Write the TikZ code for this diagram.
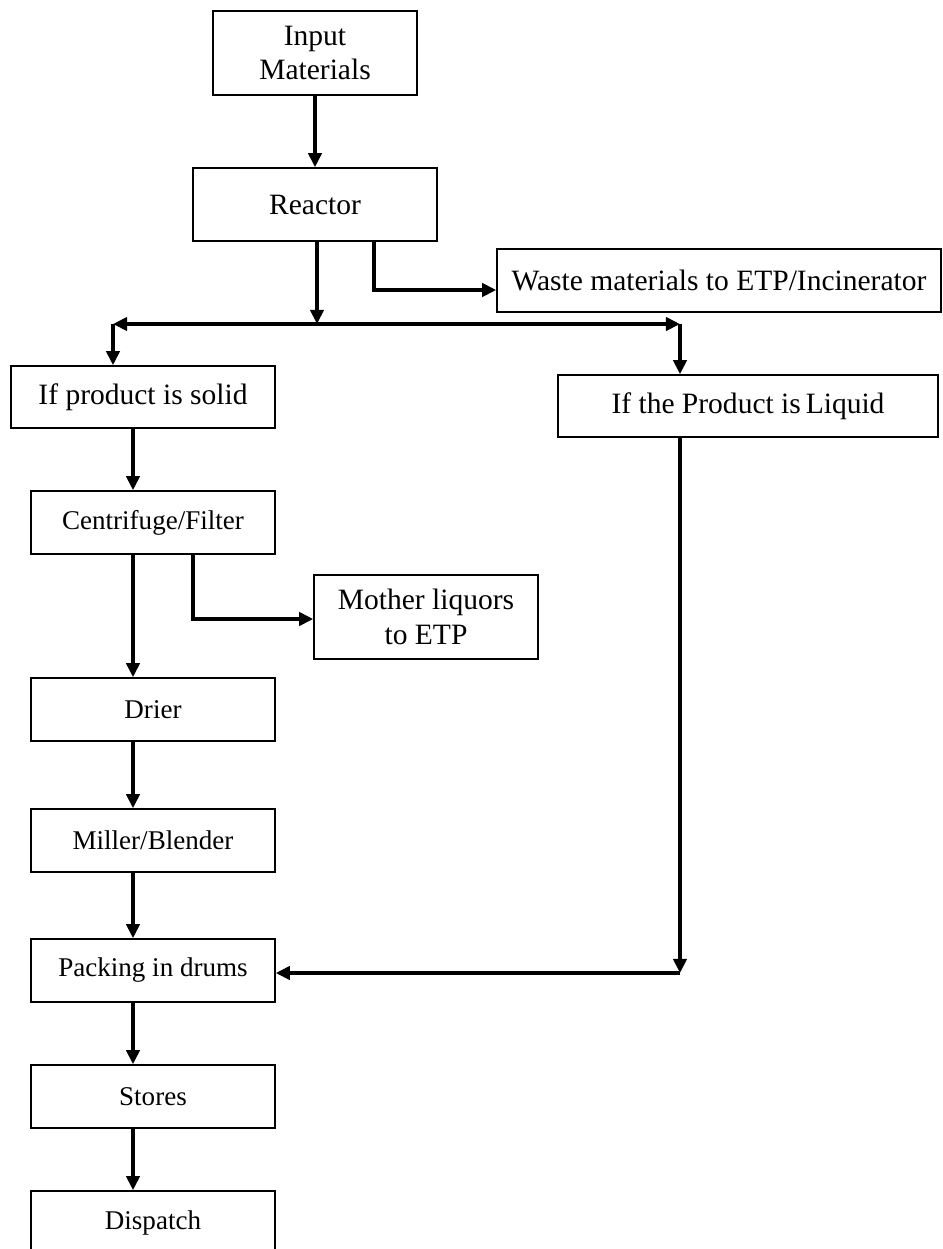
\documentclass[tikz,border=0pt]{standalone}
\usepackage{fontspec}
\setmainfont{Liberation Serif}
\usetikzlibrary{positioning, arrows.meta, calc}

\begin{document}
\begin{tikzpicture}[x=0.02cm, y=-0.02cm,
    font = \fontsize{15.4}{18}\selectfont,
    box/.style = {draw, line width=0.9pt, inner sep=0pt, align=center},
    wide/.style = {font=\fontsize{16.8}{19.5}\selectfont},
    flow/.style = {-{Triangle[length=8pt, width=7.5pt]}, line width=2pt},
    both/.style = {{Triangle[length=8pt, width=7.5pt]}-{Triangle[length=8pt, width=7.5pt]}, line width=2pt}]
    \useasboundingbox (0,0) rectangle (943,1249);

    \node[box, wide, minimum width=4.08cm, minimum height=1.68cm] (input) at (315,53) {Input\\Materials};
    \node[box, wide, minimum width=4.88cm, minimum height=1.46cm] (reactor) at (315,204.5) {Reactor};
    \node[box, wide, minimum width=8.88cm, minimum height=1.26cm] (waste) at (719,280.5) {Waste materials to ETP/Incinerator};
    \node[box, wide, minimum width=5.28cm, minimum height=1.24cm] (solid) at (143,397) {If product is solid};
    \node[box, wide, minimum width=7.6cm, minimum height=1.24cm] (liquid) at (748,406) {If the Product is\,Liquid};
    \node[box, minimum width=4.88cm, minimum height=1.26cm] (centrifuge) at (153,522.5) {Centrifuge/Filter};
    \node[box, wide, minimum width=4.48cm, minimum height=1.68cm] (mother) at (426,617) {Mother liquors\\to ETP};
    \node[box, minimum width=4.88cm, minimum height=1.26cm] (drier) at (153,709.5) {Drier};
    \node[box, minimum width=4.88cm, minimum height=1.26cm] (miller) at (153,840.5) {Miller/Blender};
    \node[box, minimum width=4.88cm, minimum height=1.26cm] (packing) at (153,970.5) {Packing in drums};
    \node[box, minimum width=4.88cm, minimum height=1.26cm] (stores) at (153,1096.5) {Stores};
    \node[box, minimum width=4.88cm, minimum height=1.26cm] (dispatch) at (153,1222.5) {Dispatch};

    \coordinate (split) at (317,324);
    \coordinate (lsplit) at (113,324);
    \coordinate (rsplit) at (680,324);
    \coordinate (trunk) at (133,0);
    \coordinate (drop) at (680,973);

    \draw[flow] (input) -- (reactor);
    \draw[flow] (reactor.south -| split) -- (split);
    \draw[flow] ($(reactor.south)+(59,0)$) |- ($(waste.west)+(0,9.5)$);
    \draw[both] (lsplit) -- (rsplit);
    \draw[flow] (lsplit) -- (lsplit |- solid.north);
    \draw[flow] (rsplit) -- (rsplit |- liquid.north);

    \draw[flow] (solid.south -| trunk) -- (centrifuge.north -| trunk);
    \draw[flow] (centrifuge.south -| trunk) -- (drier.north -| trunk);
    \draw[flow] ($(centrifuge.south)+(40,0)$) |- ($(mother.west)+(0,2)$);
    \draw[flow] (drier.south -| trunk) -- (miller.north -| trunk);
    \draw[flow] (miller.south -| trunk) -- (packing.north -| trunk);
    \draw[flow] (packing.south -| trunk) -- (stores.north -| trunk);
    \draw[flow] (stores.south -| trunk) -- (dispatch.north -| trunk);

    \draw[flow] (liquid.south -| drop) -- (drop);
    \draw[flow] (drop) -- (packing.east |- drop);
\end{tikzpicture}
\end{document}
